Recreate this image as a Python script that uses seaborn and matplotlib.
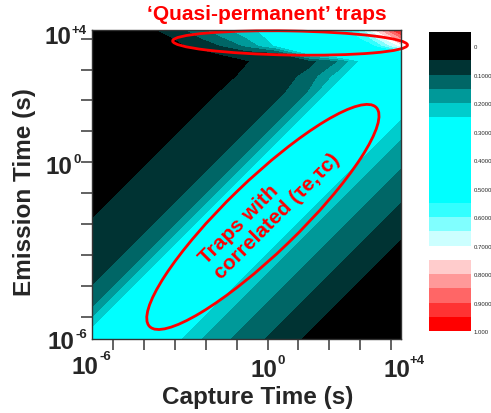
import numpy as np
import matplotlib
matplotlib.use("Agg")
import matplotlib.pyplot as plt
from matplotlib.patches import Ellipse
import seaborn as sns

# log10 of capture time (columns) and emission time (rows)
capture_log = [-6, -5, -4, -3, -2, -1, 0, 1, 2, 3, 4]
emission_log = [-6, -5, -4, -3, -2, -1, 0, 1, 2, 2.5, 3, 3.25, 3.5, 3.75, 4]

# trap occupancy probability, one row per emission-time value
occupancy = [
    [0.30, 0.50, 0.40, 0.23, 0.17, 0.125, 0.08, 0.04, 0.01, 0.0, 0.0],
    [0.15, 0.30, 0.50, 0.40, 0.23, 0.17, 0.125, 0.08, 0.04, 0.01, 0.0],
    [0.08, 0.15, 0.30, 0.50, 0.40, 0.23, 0.17, 0.125, 0.08, 0.04, 0.01],
    [0.062, 0.08, 0.15, 0.30, 0.50, 0.40, 0.23, 0.17, 0.125, 0.08, 0.04],
    [0.048, 0.062, 0.08, 0.15, 0.30, 0.50, 0.40, 0.23, 0.17, 0.125, 0.08],
    [0.03, 0.048, 0.062, 0.08, 0.15, 0.30, 0.50, 0.40, 0.23, 0.17, 0.125],
    [0.02, 0.03, 0.048, 0.062, 0.08, 0.15, 0.30, 0.50, 0.40, 0.23, 0.17],
    [0.01, 0.02, 0.03, 0.048, 0.062, 0.08, 0.15, 0.30, 0.50, 0.40, 0.23],
    [0.0, 0.01, 0.02, 0.03, 0.048, 0.062, 0.08, 0.15, 0.30, 0.50, 0.40],
    [0.0, 0.005, 0.015, 0.025, 0.039, 0.055, 0.071, 0.115, 0.225, 0.40, 0.45],
    [0.0, 0.0, 0.01, 0.02, 0.03, 0.048, 0.062, 0.08, 0.15, 0.30, 0.50],
    [0.0, 0.0, 0.008, 0.02, 0.05, 0.07, 0.09, 0.26, 0.36, 0.42, 0.50],
    [0.0, 0.0, 0.005, 0.048, 0.09, 0.16, 0.26, 0.33, 0.42, 0.52, 0.72],
    [0.0, 0.0, 0.02, 0.07, 0.13, 0.20, 0.28, 0.35, 0.45, 0.60, 0.85],
    [0.0, 0.01, 0.045, 0.095, 0.17, 0.23, 0.29, 0.36, 0.46, 0.70, 0.97],
]

# contour levels and the colour of each band
level_edges = [-0.05, 0.0, 0.05, 0.1, 0.15, 0.2, 0.25, 0.3, 0.35, 0.4, 0.45, 0.5,
               0.55, 0.6, 0.65, 0.7, 0.75, 0.8, 0.85, 0.9, 0.95, 1.0]
band_colors = ["#000000", "#000000", "#003333", "#006666", "#009999", "#00CCCC",
               "#00FFFF", "#00FFFF", "#00FFFF", "#00FFFF", "#00FFFF", "#00FFFF",
               "#33FFFF", "#80FFFF", "#CCFFFF", "#FFFFFF",
               "#FFCCCC", "#FF9999", "#FF6666", "#FF3333", "#FF0000"]
cbar_ticks = [0, 0.1, 0.2, 0.3, 0.4, 0.5, 0.6, 0.7, 0.8, 0.9, 1.0]
cbar_labels = ["0", "0.1000", "0.2000", "0.3000", "0.4000", "0.5000",
               "0.6000", "0.7000", "0.8000", "0.9000", "1.000"]

sns.set_theme(style="white")
plt.rcParams["font.family"] = ["Liberation Sans", "DejaVu Sans"]
plt.rcParams["font.weight"] = "bold"

W, H = 491, 414
fig = plt.figure(figsize=(W / 100, H / 100), dpi=100)


def px(x, y):
    return x / W, 1 - y / H


ax = fig.add_axes([92 / W, 1 - 340 / H, 309 / W, 309 / H])
cs = ax.contourf(capture_log, emission_log, occupancy,
                 levels=level_edges, colors=band_colors, antialiased=False)
ax.set_xlim(-6, 4)
ax.set_ylim(-6, 4)

tick_pos = [-5.32 + k for k in range(10)]
ax.set_xticks(tick_pos)
ax.set_yticks([t + 0.04 for t in tick_pos])
ax.set_xticklabels([])
ax.set_yticklabels([])
ax.tick_params(bottom=True, left=True, direction="out", length=8, width=1.3,
               color="#555555")
for s in ax.spines.values():
    s.set_color("#333333")
    s.set_linewidth(1.0)

# red annotations
ax.add_patch(Ellipse((0.41, 3.58), 7.6, 0.78, angle=-1, fill=False,
                     ec="#FF0000", lw=2.0, clip_on=False))
ax.add_patch(Ellipse((-0.47, -2.05), 10.2, 2.35, angle=44, fill=False,
                     ec="#FF0000", lw=2.0, clip_on=False))
ax.text(-0.24, -1.76, "Traps with\ncorrelated (τe,τc)", color="#FF0000",
        fontsize=15, fontweight="bold", rotation=45, rotation_mode="anchor",
        ha="center", va="center", multialignment="left", linespacing=1.15)

fig.text(*px(267, 15), "‘Quasi-permanent’ traps", color="#FF0000",
         fontsize=15, fontweight="bold", ha="center", va="center")

# axis titles
fig.text(*px(258, 398), "Capture Time (s)", fontsize=17.5, fontweight="bold",
         ha="center", va="center")
fig.text(*px(25, 192), "Emission Time (s)", fontsize=17.5, fontweight="bold",
         ha="center", va="center", rotation=90)

# power-of-ten tick labels
power_labels = [
    (85, 368, 99, 357, "-6"), (264, 371, 278, 361, "0"), (397, 371, 409, 361, "+4"),
    (58, 38, 72, 31, "+4"), (59, 168, 73, 160, "0"), (61, 343, 75, 335, "-6"),
]
for bx, by, sx, sy, sup in power_labels:
    fig.text(*px(bx, by), "10", fontsize=17.5, fontweight="bold",
             ha="center", va="center")
    fig.text(*px(sx, sy), sup, fontsize=9.5, fontweight="bold",
             ha="left", va="center")

# colour bar, zero at the top
cax = fig.add_axes([429 / W, 1 - 332 / H, 42 / W, 299 / H])
cb = fig.colorbar(cs, cax=cax, ticks=cbar_ticks)
cb.ax.invert_yaxis()
cb.set_ticklabels(cbar_labels)
cb.ax.tick_params(length=0, labelsize=4.3, pad=2)
for lab in cb.ax.get_yticklabels():
    lab.set_fontweight("normal")
cb.outline.set_visible(False)

fig.savefig("out.png", dpi=100)
